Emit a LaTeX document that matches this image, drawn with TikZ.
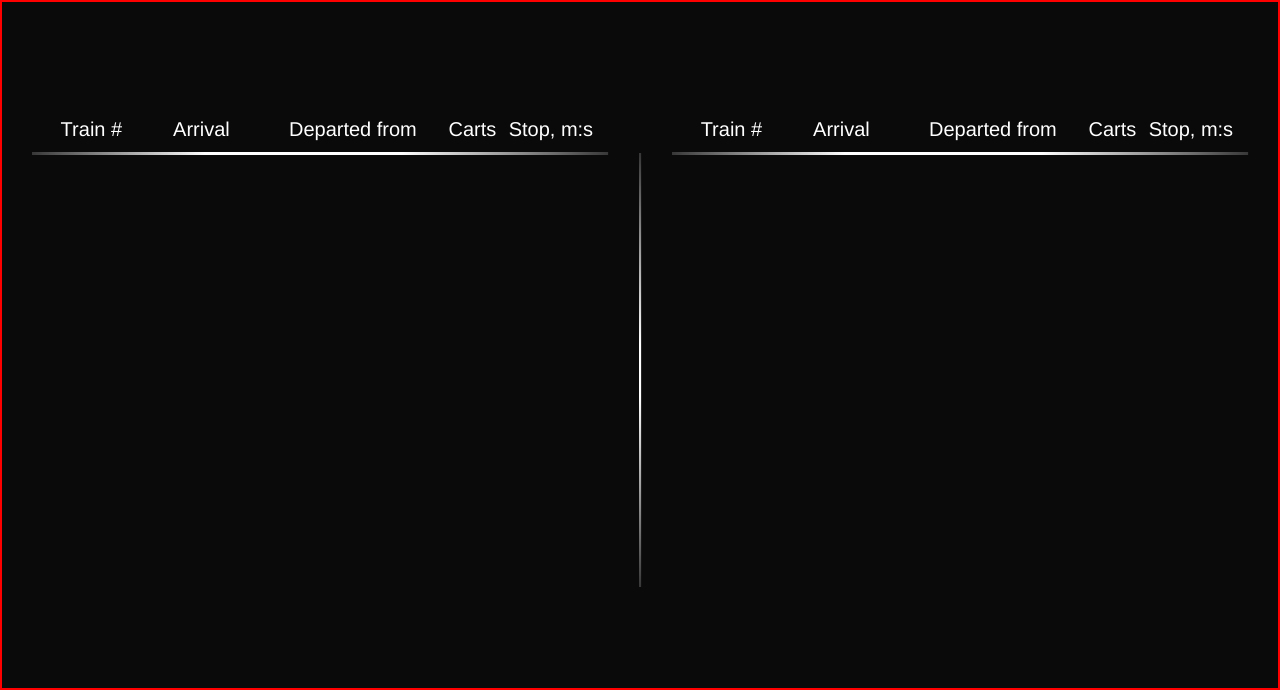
\documentclass[tikz,border=0pt]{standalone}
\usepackage{fontspec}
\setmainfont{Liberation Sans}
\definecolor{bgc}{HTML}{0A0A0A}
\definecolor{endgray}{HTML}{383838}
\pgfdeclarehorizontalshading{hlineshade}{100bp}{color(0bp)=(endgray); color(25bp)=(endgray); color(40bp)=(white); color(57bp)=(white); color(75bp)=(endgray); color(100bp)=(endgray)}
\pgfdeclareverticalshading{vlineshade}{100bp}{color(0bp)=(endgray); color(25bp)=(endgray); color(47bp)=(white); color(53bp)=(white); color(75bp)=(endgray); color(100bp)=(endgray)}
\tikzset{
  hdr/.style={text=white, font=\fontsize{20pt}{24pt}\selectfont, anchor=base, inner sep=0pt},
}
\begin{document}
\begin{tikzpicture}[x=1pt,y=-1pt]
\useasboundingbox (0,0) rectangle (1280,690);
\fill[bgc] (0,0) rectangle (1280,690);
\draw[red, line width=2pt] (1,1) rectangle (1279,689);
% left table header
\node[hdr] (l1) at (91.5,137) {Train \#};
\node[hdr] (l2) at (201.5,137) {Arrival};
\node[hdr] (l3) at (353,137) {Departed from};
\node[hdr] (l4) at (472.5,137) {Carts};
\node[hdr] (l5) at (551,137) {Stop, m:s};
% right table header
\node[hdr] (r1) at (731.5,137) {Train \#};
\node[hdr] (r2) at (841.5,137) {Arrival};
\node[hdr] (r3) at (993,137) {Departed from};
\node[hdr] (r4) at (1112.5,137) {Carts};
\node[hdr] (r5) at (1191,137) {Stop, m:s};
% underlines
\shade[shading=hlineshade] (32,152.7) rectangle (608,154.7);
\shade[shading=hlineshade] (672,152.7) rectangle (1248,154.7);
% divider
\shade[shading=vlineshade] (639,154) rectangle (641,586);
\end{tikzpicture}
\end{document}
